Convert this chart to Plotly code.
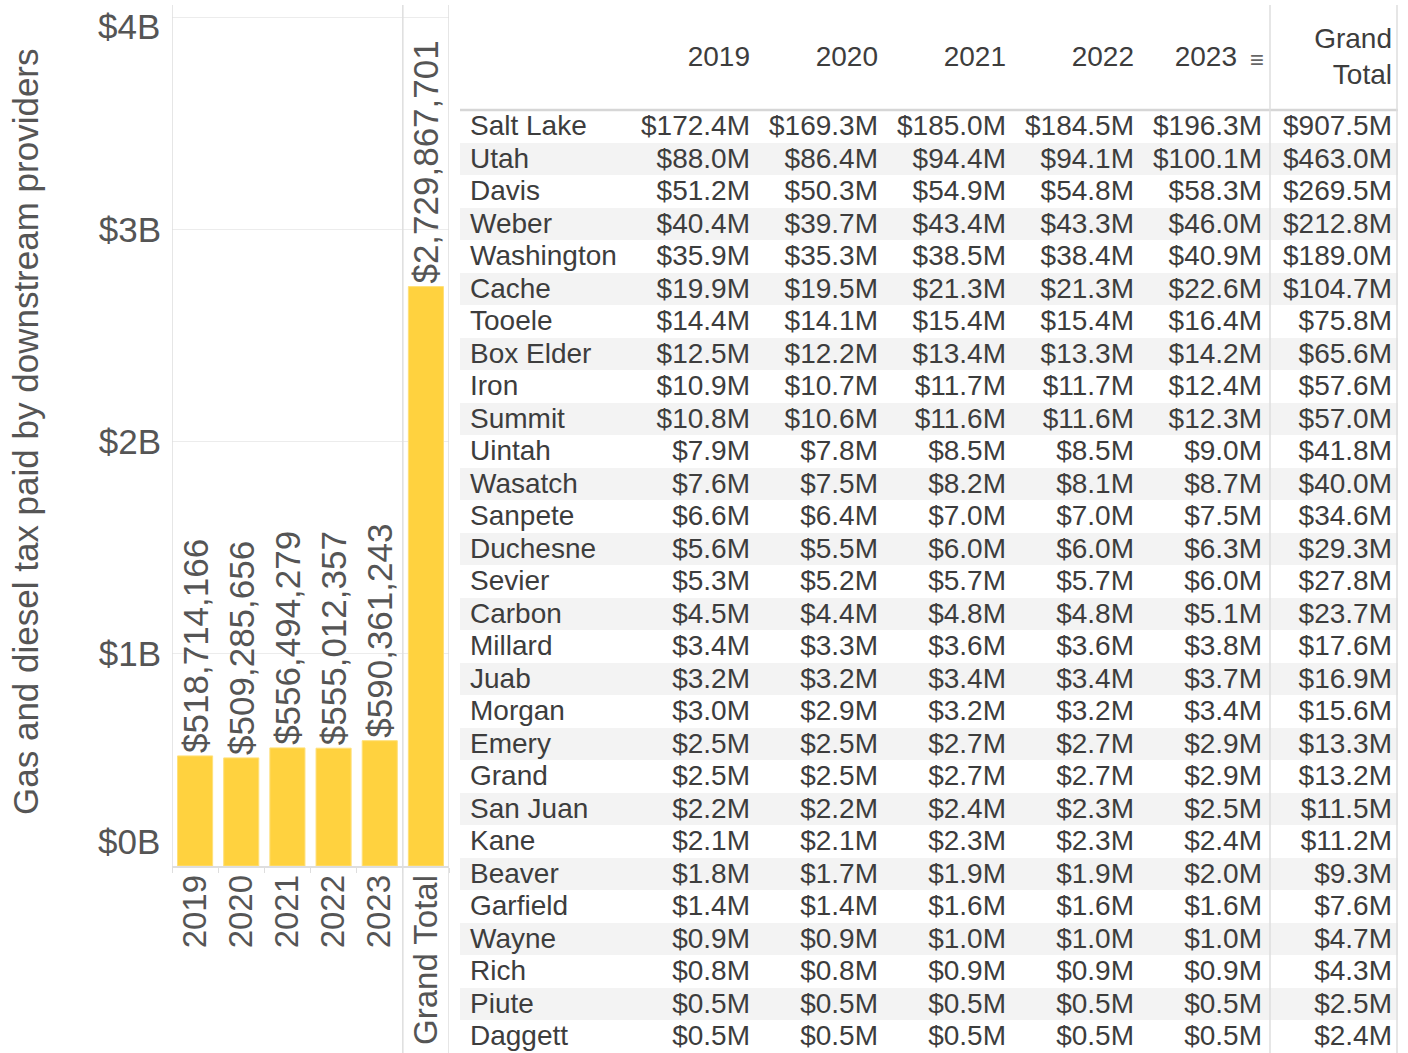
import plotly.graph_objects as go

# ---------------- data ----------------
bar_categories = ["2019", "2020", "2021", "2022", "2023", "Grand Total"]
bar_values = [518714166, 509285656, 556494279, 555012357, 590361243, 2729867701]
y_tick_vals = [0, 1e9, 2e9, 3e9, 4e9]
y_tick_labels = ["$0B", "$1B", "$2B", "$3B", "$4B"]

counties = ["Salt Lake", "Utah", "Davis", "Weber", "Washington", "Cache", "Tooele",
            "Box Elder", "Iron", "Summit", "Uintah", "Wasatch", "Sanpete", "Duchesne",
            "Sevier", "Carbon", "Millard", "Juab", "Morgan", "Emery", "Grand",
            "San Juan", "Kane", "Beaver", "Garfield", "Wayne", "Rich", "Piute", "Daggett"]
table_headers = ["2019", "2020", "2021", "2022", "2023", "Grand<br>Total"]
v2019 = [172.4, 88.0, 51.2, 40.4, 35.9, 19.9, 14.4, 12.5, 10.9, 10.8, 7.9, 7.6, 6.6, 5.6,
         5.3, 4.5, 3.4, 3.2, 3.0, 2.5, 2.5, 2.2, 2.1, 1.8, 1.4, 0.9, 0.8, 0.5, 0.5]
v2020 = [169.3, 86.4, 50.3, 39.7, 35.3, 19.5, 14.1, 12.2, 10.7, 10.6, 7.8, 7.5, 6.4, 5.5,
         5.2, 4.4, 3.3, 3.2, 2.9, 2.5, 2.5, 2.2, 2.1, 1.7, 1.4, 0.9, 0.8, 0.5, 0.5]
v2021 = [185.0, 94.4, 54.9, 43.4, 38.5, 21.3, 15.4, 13.4, 11.7, 11.6, 8.5, 8.2, 7.0, 6.0,
         5.7, 4.8, 3.6, 3.4, 3.2, 2.7, 2.7, 2.4, 2.3, 1.9, 1.6, 1.0, 0.9, 0.5, 0.5]
v2022 = [184.5, 94.1, 54.8, 43.3, 38.4, 21.3, 15.4, 13.3, 11.7, 11.6, 8.5, 8.1, 7.0, 6.0,
         5.7, 4.8, 3.6, 3.4, 3.2, 2.7, 2.7, 2.3, 2.3, 1.9, 1.6, 1.0, 0.9, 0.5, 0.5]
v2023 = [196.3, 100.1, 58.3, 46.0, 40.9, 22.6, 16.4, 14.2, 12.4, 12.3, 9.0, 8.7, 7.5, 6.3,
         6.0, 5.1, 3.8, 3.7, 3.4, 2.9, 2.9, 2.5, 2.4, 2.0, 1.6, 1.0, 0.9, 0.5, 0.5]
vtotal = [907.5, 463.0, 269.5, 212.8, 189.0, 104.7, 75.8, 65.6, 57.6, 57.0, 41.8, 40.0, 34.6,
          29.3, 27.8, 23.7, 17.6, 16.9, 15.6, 13.3, 13.2, 11.5, 11.2, 9.3, 7.6, 4.7, 4.3, 2.5, 2.4]
table_columns = [v2019, v2020, v2021, v2022, v2023, vtotal]

# ---------------- layout constants ----------------
W, H = 1408, 1053
FONT = "Liberation Sans, Arial, sans-serif"
AX_COLOR = "#555555"
TXT_COLOR = "#3d3d3d"
LINE = "#dedede"
BAR_COLOR = "#FFD23F"

# bar chart plot area (px)
bx0, bx1, by_top, by_zero, by_4b = 172, 449, 5, 866, 17
ymax = 4e9 * (by_zero - by_top) / (by_zero - by_4b)

# table geometry (px)
tx0, tx1 = 460, 1398
col_w = 128.0
label_w = tx1 - tx0 - 6 * col_w
row_h = 32.5
row0_top = 110
text_dy = 2 / row_h
def py_to_row(p):
    return (p - (row0_top + row_h / 2)) / row_h
n_rows = len(counties)
rows = list(range(n_rows))
text_rows = [r + text_dy for r in rows]

fig = go.Figure()

# ---------- bar chart ----------
fig.add_trace(go.Bar(
    x=bar_categories, y=bar_values,
    marker=dict(color=BAR_COLOR, line=dict(color="#FFE07A", width=1)),
    width=0.76,
    texttemplate="$%{y:,}", textposition="outside", textangle=-90,
    constraintext="none", cliponaxis=False,
    textfont=dict(family=FONT, size=35, color=AX_COLOR),
    xaxis="x", yaxis="y", hoverinfo="skip", showlegend=False,
))

# ---------- table: row banding ----------
band = [[i % 2] for i in rows]
fig.add_trace(go.Heatmap(
    x=[-label_w / col_w, 6], y=rows, z=band,
    colorscale=[[0, "#ffffff"], [1, "#f3f3f3"]], zmin=0, zmax=1,
    showscale=False, xaxis="x2", yaxis="y2", hoverinfo="skip",
))

# county labels
fig.add_trace(go.Scatter(
    x=[-label_w / col_w + 10 / col_w] * n_rows, y=text_rows,
    mode="text", text=counties, textposition="middle right",
    textfont=dict(family=FONT, size=28, color=TXT_COLOR),
    xaxis="x2", yaxis="y2", hoverinfo="skip", showlegend=False,
))

# value columns
for j, col in enumerate(table_columns):
    pad = 8 if j < 5 else 6
    fig.add_trace(go.Scatter(
        x=[j + 1 - pad / col_w] * n_rows, y=text_rows,
        mode="text", text=col, texttemplate="$%{text:.1f}M",
        textposition="middle left",
        textfont=dict(family=FONT, size=28, color=TXT_COLOR),
        xaxis="x2", yaxis="y2", hoverinfo="skip", showlegend=False,
    ))

# header
hdr_x = [j + 1 - 8 / col_w for j in range(6)]
hdr_x[4] = 5 - 33 / col_w
hdr_x[5] = 6 - 6 / col_w
fig.add_trace(go.Scatter(
    x=hdr_x, y=[py_to_row(59)] * 6, mode="text", text=table_headers,
    textposition="middle left",
    textfont=dict(family=FONT, size=28, color=TXT_COLOR),
    xaxis="x2", yaxis="y2", hoverinfo="skip", showlegend=False,
))

shapes = []
# bar chart frame lines
shapes.append(dict(type="line", xref="x", yref="paper", x0=-0.5, x1=-0.5,
                   y0=1 - by_zero / H, y1=1 - by_top / H, line=dict(color=LINE, width=1.5)))
for xv in (4.5, 5.5):
    shapes.append(dict(type="line", xref="x", yref="paper", x0=xv, x1=xv,
                       y0=0, y1=1 - by_top / H, line=dict(color=LINE, width=1.5)))
# table lines
shapes.append(dict(type="line", xref="x2", yref="y2", x0=-label_w / col_w, x1=6,
                   y0=-0.5, y1=-0.5, line=dict(color="#d6d6d6", width=2.5)))
for xv in (5, 6 - 1 / col_w):
    shapes.append(dict(type="line", xref="x2", yref="y2", x0=xv, x1=xv,
                       y0=py_to_row(by_top), y1=py_to_row(H), line=dict(color=LINE, width=1.5)))

# y tick labels: middle ones via axis, end ones nudged inward (Tableau style)
axis_ticktext = ["" if i in (0, len(y_tick_vals) - 1) else t for i, t in enumerate(y_tick_labels)]
annotations = [
    dict(text="Gas and diesel tax paid by downstream providers", textangle=-90,
         xref="paper", yref="paper", x=25 / W, y=1 - 432 / H, showarrow=False,
         xanchor="center", yanchor="middle",
         font=dict(family=FONT, size=35, color=AX_COLOR)),
    dict(text="≡", xref="x2", yref="y2", x=5 - 13 / col_w, y=py_to_row(59),
         showarrow=False, xanchor="center", yanchor="middle",
         font=dict(family=FONT, size=24, color="#666666")),
]
for idx, shift in ((0, 25), (len(y_tick_vals) - 1, -10)):
    annotations.append(dict(
        text=y_tick_labels[idx], xref="paper", yref="y", x=(bx0 - 10) / W,
        y=y_tick_vals[idx], yshift=shift, showarrow=False,
        xanchor="right", yanchor="middle",
        font=dict(family=FONT, size=35, color=AX_COLOR)))

fig.update_layout(
    width=W, height=H, margin=dict(l=0, r=0, t=0, b=0, autoexpand=False),
    paper_bgcolor="white", plot_bgcolor="rgba(0,0,0,0)",
    bargap=0.24,
    xaxis=dict(domain=[bx0 / W, bx1 / W], range=[-0.5, 5.5], type="category",
               automargin=False,
               tickangle=-90, ticks="outside", tickson="boundaries", ticklen=5,
               ticklabelstandoff=-6,
               tickcolor=LINE, showline=True, linecolor=LINE, linewidth=1.5,
               showgrid=False, tickfont=dict(family=FONT, size=33, color=AX_COLOR),
               anchor="y"),
    yaxis=dict(domain=[1 - by_zero / H, 1 - by_top / H], range=[0, ymax],
               automargin=False,
               tickvals=y_tick_vals, ticktext=axis_ticktext, ticks="",
               ticklabelstandoff=10,
               showgrid=True, gridcolor="#ececec", gridwidth=1,
               zeroline=False, showline=False,
               tickfont=dict(family=FONT, size=35, color=AX_COLOR), anchor="x"),
    xaxis2=dict(domain=[tx0 / W, tx1 / W], range=[-label_w / col_w, 6], visible=False,
                automargin=False, anchor="y2"),
    yaxis2=dict(domain=[0, 1], range=[py_to_row(H), py_to_row(0)], visible=False,
                automargin=False, anchor="x2"),
    shapes=shapes, annotations=annotations,
)

fig.write_html("out.html", config={"displayModeBar": False},
               post_script="document.body.style.margin='0';document.body.style.overflow='hidden';")
